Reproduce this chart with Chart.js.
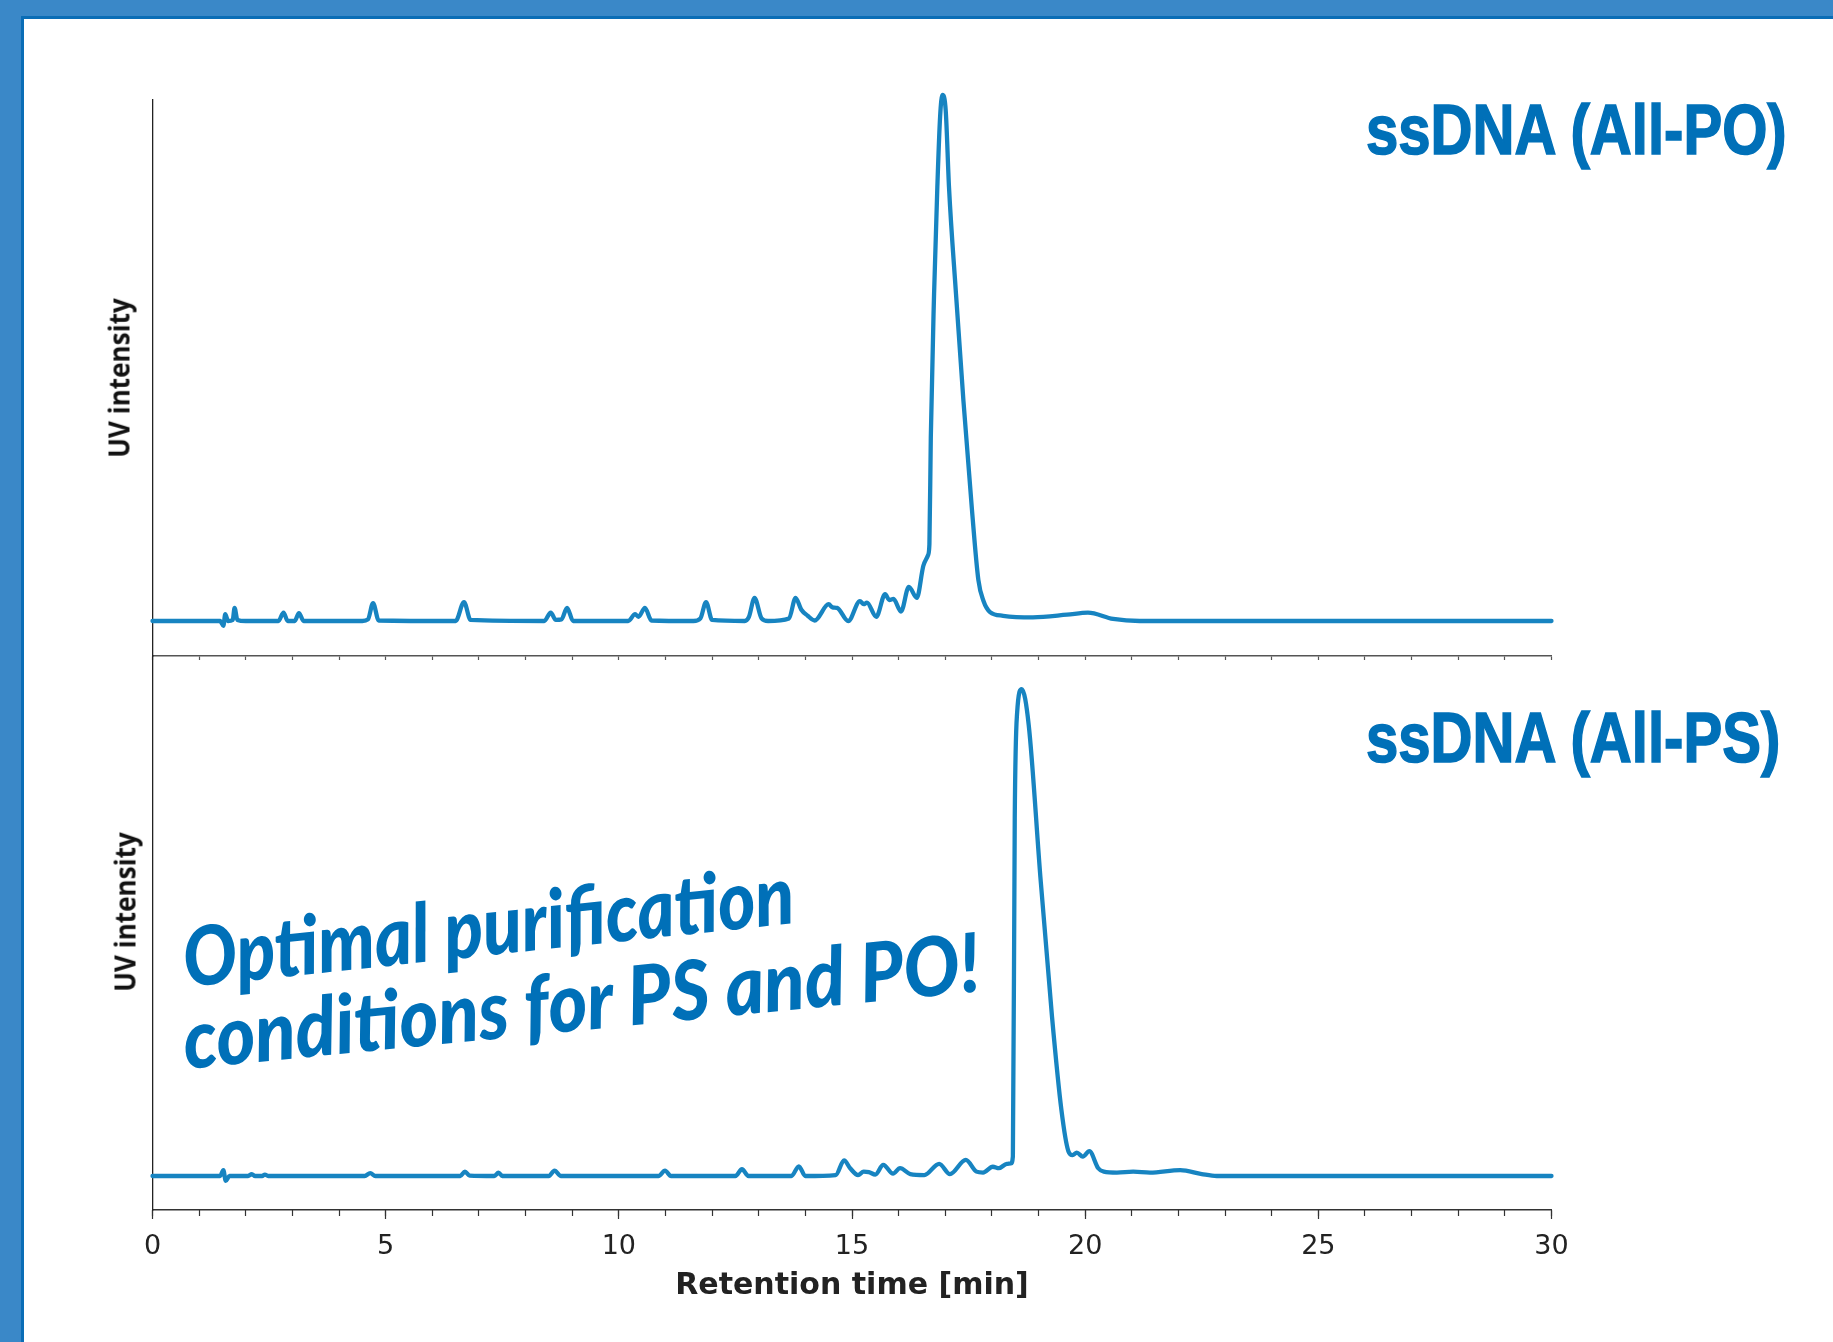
<!DOCTYPE html>
<html><head><meta charset="utf-8">
<script src="https://cdn.jsdelivr.net/npm/chart.js@4.4.1/dist/chart.umd.min.js"></script>
<style>
html,body{margin:0;padding:0;background:#fff;width:1833px;height:1342px;overflow:hidden;position:relative;}
.band{position:absolute;background:#3a88c8;}
.edge{position:absolute;background:#0a6db6;}
canvas{position:absolute;left:0;}
#cTop{top:0;}
#cBot{top:600px;}
.title{position:absolute;font-family:"Liberation Sans",Arial,sans-serif;font-weight:bold;font-size:70px;line-height:70px;color:#0070b8;-webkit-text-stroke:1.6px #0070b8;white-space:nowrap;transform-origin:0 0;transform:scaleX(0.83);}
.ylab{position:absolute;font-family:"Open Sans",sans-serif;font-weight:700;font-size:29px;line-height:29px;color:#111;white-space:nowrap;transform:translate(-50%,-50%) rotate(-90deg) scaleX(0.9);}
.note{position:absolute;font-family:"Lato",sans-serif;font-style:italic;font-weight:900;font-size:82px;line-height:82px;color:#0070b8;white-space:nowrap;transform-origin:0 100%;}
</style></head>
<body>
<div class="band" style="left:0;top:0;width:1833px;height:16px;"></div>
<div class="band" style="left:0;top:0;width:21px;height:1342px;"></div>
<div class="edge" style="left:21px;top:16px;width:1812px;height:3px;"></div>
<div class="edge" style="left:21px;top:16px;width:3px;height:1326px;"></div>
<canvas id="cTop" width="1833" height="700"></canvas>
<canvas id="cBot" width="1833" height="742"></canvas>
<div class="title" style="left:1366px;top:95px;">ssDNA (All-PO)</div>
<div class="title" style="left:1366px;top:703px;">ssDNA (All-PS)</div>
<div class="ylab" style="left:118px;top:378px;">UV intensity</div>
<div class="ylab" style="left:124px;top:912px;">UV intensity</div>
<div class="note" style="left:187px;top:914px;transform:rotate(-6deg) scaleX(0.87);">Optimal purification</div>
<div class="note" style="left:187px;top:996px;transform:rotate(-5.6deg) scaleX(0.905);">conditions for PS and PO!</div>
<script>
// ---- data (retention time in min, UV intensity in % of main peak) ----
const topTimes = [0,1.45,1.52,1.56,1.62,1.72,1.76,1.82,2.0,2.7,2.81,2.9,3.05,3.14,3.24,4.5,4.62,4.73,4.85,6.5,6.68,6.82,8.4,8.54,8.65,8.77,8.89,9.02,10.2,10.35,10.42,10.56,10.7,11.6,11.75,11.87,12.0,12.7,12.79,12.91,13.06,13.2,13.65,13.79,13.91,14.05,14.2,14.5,14.58,14.68,14.92,15.17,15.25,15.32,15.52,15.71,15.8,15.89,16.05,16.22,16.39,16.53,16.63,16.66,16.69,16.76,16.83,16.89,16.94,17.01,17.08,17.23,17.39,17.57,17.71,17.82,17.96,18.24,18.88,19.61,20.06,20.6,21.17,30];
const topValues = [0,0,-0.9,1.3,0,0.2,2.5,0.2,0,0,1.6,0,0,1.5,0,0,0.3,3.4,0.1,0,3.6,0.2,0,1.6,0.2,0.3,2.5,0,0,1.3,0.8,2.5,0.1,0,0.5,3.6,0.2,0,0.8,4.4,0.5,0,0.5,4.4,2.2,1.0,0.1,3.2,2.6,2.5,0,3.8,3.2,3.5,0.8,5.1,4.0,4.2,1.8,6.5,4.4,10.5,12.5,14.6,35,62.2,82.5,96,100,97,82.5,62.2,41.8,21.4,7.8,3.8,1.7,1.0,0.7,1.2,1.6,0.4,0,0];
const botTimes = [0,1.45,1.52,1.57,1.65,2.05,2.13,2.2,2.35,2.41,2.48,4.55,4.67,4.78,6.6,6.7,6.8,7.33,7.42,7.5,8.5,8.62,8.76,10.85,10.99,11.12,12.5,12.64,12.78,13.7,13.86,14.0,14.65,14.83,14.96,15.13,15.25,15.36,15.5,15.67,15.88,16.03,16.25,16.55,16.87,17.1,17.44,17.67,17.81,18.02,18.15,18.32,18.41,18.45,18.49,18.54,18.64,18.79,19.04,19.29,19.49,19.64,19.73,19.82,19.95,20.09,20.28,20.4,20.68,21.03,21.39,22.04,22.5,22.82,30];
const botValues = [0,0,1.2,-1.0,0,0,0.4,0,0,0.3,0,0,0.6,0,0,0.9,0.1,0,0.7,0,0,1.1,0,0,1.1,0,0,1.4,0,0,2.0,0,0.2,3.2,1.6,0.2,0.9,0.8,0.3,2.3,0.5,1.6,0.4,0.2,2.5,0.4,3.3,0.9,0.7,1.9,1.6,2.5,2.6,4,73.5,95,100,92.6,61.4,32.6,13.6,5.1,4.3,4.8,4.0,5.1,1.6,0.9,0.7,0.9,0.7,1.2,0.4,0,0];
const xTickLabels = ['0','5','10','15','20','25','30'];
const xTitle = 'Retention time [min]';

const LINE = '#1784c1';
function pts(ts, vs){ return ts.map((t,i)=>({x:t,y:vs[i]})); }
function ds(ts, vs){ return {data:pts(ts,vs), borderColor:LINE, borderWidth:4.3, pointRadius:0, cubicInterpolationMode:'monotone', clip:false, fill:false, borderJoinStyle:'round', borderCapStyle:'round'}; }
const zeroW = s => { s.width = 0; };

new Chart(document.getElementById('cTop'), {
  type:'line',
  data:{datasets:[ds(topTimes, topValues)]},
  options:{
    responsive:false, animation:false, events:[],
    layout:{padding:{left:152.5,right:281.5,top:100,bottom:44}},
    plugins:{legend:{display:false},tooltip:{enabled:false}},
    scales:{
      x:{type:'linear',min:0,max:30,
         ticks:{display:false,stepSize:1},
         grid:{drawOnChartArea:false,tickLength:4,tickColor:'#555',tickWidth:1.2},
         border:{color:'#555',width:1.5},
         afterFit:s=>{s.height=0;}},
      y:{min:-6.65,max:99.05,ticks:{display:false},
         grid:{display:false,drawTicks:false},
         border:{color:'#222',width:1.3},
         afterFit:zeroW}
    }
  }
});

new Chart(document.getElementById('cBot'), {
  type:'line',
  data:{datasets:[Object.assign(ds(botTimes, botValues),{xAxisID:'x'})]},
  options:{
    responsive:false, animation:false, events:[],
    layout:{padding:{left:152.5,right:281.5,top:56,bottom:0}},
    plugins:{legend:{display:false},tooltip:{enabled:false}},
    scales:{
      xMinor:{type:'linear',position:'bottom',weight:0,min:0,max:30,
         ticks:{display:false,stepSize:1},
         grid:{drawOnChartArea:false,tickLength:6,tickColor:'#333',tickWidth:1.2},
         border:{display:false},
         afterFit:s=>{s.height=0;}},
      x:{type:'linear',position:'bottom',weight:10,min:0,max:30,
         ticks:{stepSize:5,padding:12,color:'#222',maxRotation:0,
                font:{family:'DejaVu Sans',size:27},
                callback:(v)=>{const i=Math.round(v/5); return (Math.abs(v-i*5)<1e-6 && xTickLabels[i]!==undefined)?xTickLabels[i]:'';}},
         grid:{drawOnChartArea:false,tickLength:9,tickColor:'#333',tickWidth:1.2},
         border:{color:'#333',width:1.5},
         title:{display:true,text:xTitle,color:'#222',
                font:{family:'DejaVu Sans',size:30,weight:'bold'},padding:{top:0,bottom:38}},
         afterFit:s=>{s.height=132;}},
      y:{min:-6.98,max:106.8,ticks:{display:false},
         grid:{display:false,drawTicks:false},
         border:{color:'#222',width:1.3},
         afterFit:zeroW}
    }
  }
});
</script>
</body></html>
